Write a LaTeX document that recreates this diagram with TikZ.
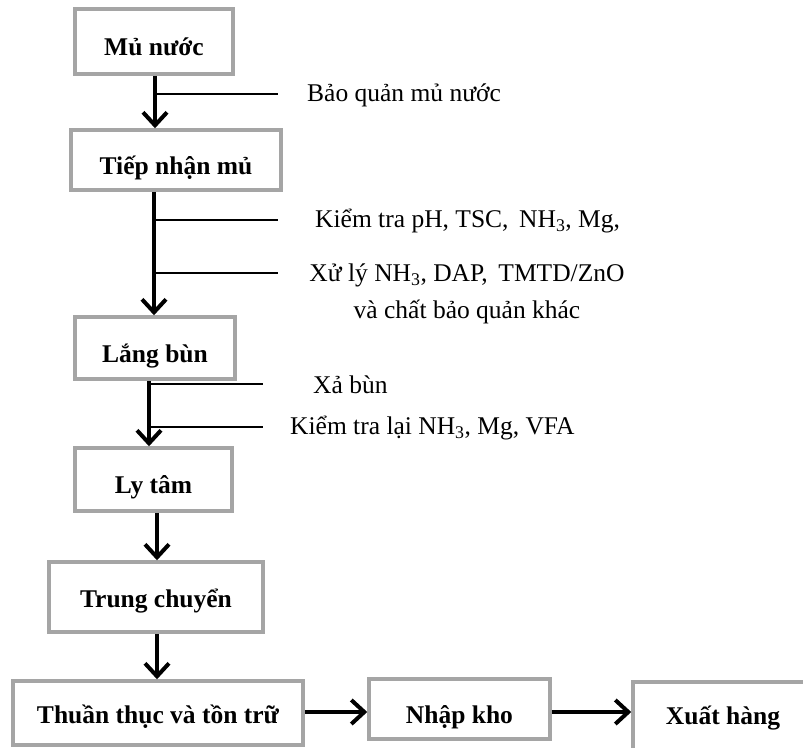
\documentclass[tikz,border=0pt]{standalone}
\usepackage{fontspec}
\setmainfont{Liberation Serif}
\usetikzlibrary{arrows.meta}
\definecolor{boxgray}{RGB}{165,165,165}
\tikzset{
  box/.style={draw=boxgray, line width=3.5pt, fill=white, inner sep=0pt,
    text height=28pt, text depth=0pt,
    font=\fontsize{25.5}{30}\selectfont\bfseries},
  lowtext/.style={text height=20pt},
  hightext/.style={text height=13.5pt},
  arr/.style={line width=4pt, -{Straight Barb[length=13pt,width=24pt,line width=4pt]}},
  branch/.style={line width=1.4pt},
  note/.style={font=\fontsize{25.5}{37}\selectfont, inner sep=0pt}
}
\begin{document}
\begin{tikzpicture}[x=1pt,y=-1pt]
\useasboundingbox (0,0) rectangle (803,747);
\clip (0,0) rectangle (803,747);
\fill[white] (0,0) rectangle (803,747);
% boxes
\node[box, minimum width=158pt, minimum height=65pt] (b1) at (154,41.5) {Mủ nước};
\node[box, minimum width=210pt, minimum height=60pt] (b2) at (176,160) {Tiếp nhận mủ};
\node[box, minimum width=160pt, minimum height=62pt] (b3) at (155,348) {Lắng bùn};
\node[box, minimum width=157pt, minimum height=63pt] (b4) at (153.5,479.5) {Ly tâm};
\node[box, lowtext, minimum width=214pt, minimum height=70pt] (b5) at (156,597) {Trung chuyển};
\node[box, lowtext, minimum width=290pt, minimum height=64pt] (b6) at (158,713) {Thuần thục và tồn trữ};
\node[box, minimum width=181pt, minimum height=60pt] (b7) at (459.5,709) {Nhập kho};
\node[box, hightext, minimum width=180pt, minimum height=72pt] (b8) at (723,718) {Xuất hàng};
% arrow x positions
\coordinate (x1) at (155,0);
\coordinate (x2) at (154,0);
\coordinate (x3) at (149,0);
\coordinate (x4) at (157,0);
% vertical arrows
\draw[arr] (b1.south -| x1) -- (b2.north -| x1);
\draw[arr] (b2.south -| x2) -- (b3.north -| x2);
\draw[arr] (b3.south -| x3) -- (b4.north -| x3);
\draw[arr] (b4.south -| x4) -- (b5.north -| x4);
\draw[arr] (b5.south -| x4) -- (b6.north -| x4);
% horizontal arrows
\draw[arr] (b6.east |- 0,712) -- (b7.west |- 0,712);
\draw[arr] (b7.east |- 0,712) -- (b8.west |- 0,712);
% notes
\node[note, anchor=west] (n1) at (307,95) {Bảo quản mủ nước};
\node[note, anchor=west] (n2) at (315,221) {Kiểm tra pH, TSC,\, NH\textsubscript{3}, Mg,};
\node[note, align=center] (n3) at (467,294) {Xử lý NH\textsubscript{3}, DAP,\, TMTD/ZnO\\và chất bảo quản khác};
\node[note, anchor=west] (n4) at (313,385) {Xả bùn};
\node[note, anchor=west] (n5) at (290,428) {Kiểm tra lại NH\textsubscript{3}, Mg, VFA};
% branch lines
\coordinate (e1) at (278,94);
\coordinate (e2) at (278,220);
\coordinate (e3) at (278,273);
\coordinate (e4) at (263,384);
\coordinate (e5) at (263,427);
\draw[branch] (e1 -| x1) -- (e1);
\draw[branch] (e2 -| x2) -- (e2);
\draw[branch] (e3 -| x2) -- (e3);
\draw[branch] (e4 -| x3) -- (e4);
\draw[branch] (e5 -| x3) -- (e5);
\end{tikzpicture}
\end{document}
